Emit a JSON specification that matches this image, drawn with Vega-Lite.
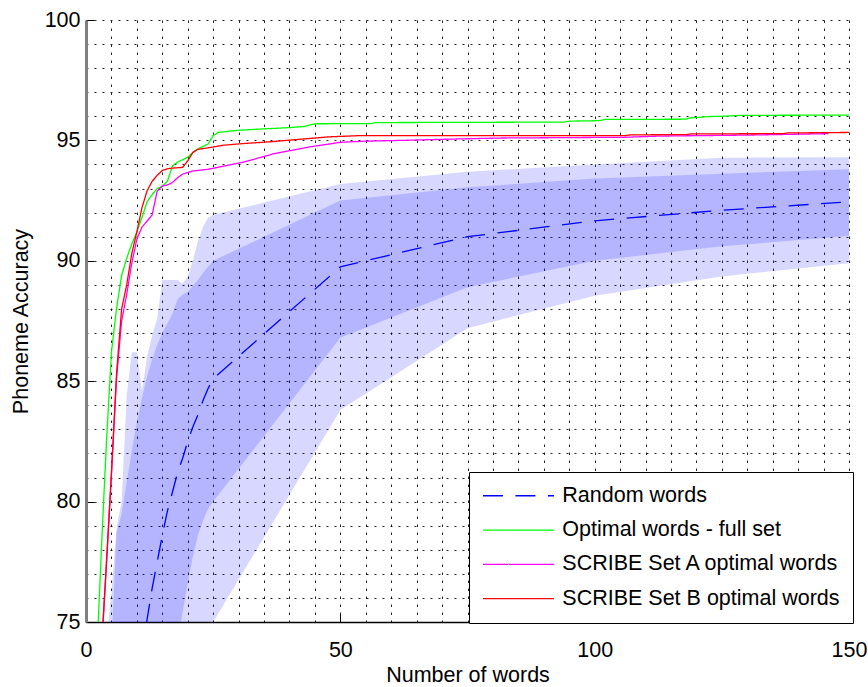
{
  "$schema": "https://vega.github.io/schema/vega-lite/v6.json",
  "width": 763,
  "height": 602,
  "autosize": {"type": "none"},
  "padding": {"left": 86, "top": 20, "right": 19, "bottom": 65},
  "background": "white",
  "config": {
    "view": {"stroke": null},
    "font": "Liberation Sans",
    "axis": {
      "labelFont": "Liberation Sans",
      "labelFontSize": 21.5,
      "labelColor": "black",
      "titleFont": "Liberation Sans",
      "titleFontSize": 21.5,
      "titleFontWeight": "normal",
      "titleColor": "black",
      "grid": true,
      "gridColor": "black",
      "gridOpacity": 0.85,
      "gridWidth": 1,
      "tickColor": "black",
      "tickWidth": 1,
      "labelOverlap": false,
      "labelFlush": false
    },
    "legend": {
      "title": null,
      "orient": "none",
      "legendX": 383,
      "legendY": 452,
      "symbolType": "M-1.38,0H8.62",
      "symbolSize": 201.6,
      "symbolStrokeWidth": 1.3,
      "labelFont": "Liberation Sans",
      "labelFontSize": 21.5,
      "labelColor": "black",
      "labelLimit": 0,
      "labelOffset": 58.8,
      "strokeColor": "black",
      "fillColor": "white",
      "padding": 13,
      "rowPadding": 11.3
    }
  },
  "datasets": {
    "bands": [
      {"x": 4, "olo": 52, "ohi": 74.2, "ilo": 55, "ihi": 70},
      {"x": 5, "olo": 54, "ohi": 76.2, "ilo": 57, "ihi": 74.0},
      {"x": 6, "olo": 56, "ohi": 78.9, "ilo": 59, "ihi": 78.7},
      {"x": 7, "olo": 58, "ohi": 80.0, "ilo": 61, "ihi": 79.5},
      {"x": 8, "olo": 59.5, "ohi": 84.4, "ilo": 63, "ihi": 80.8},
      {"x": 9, "olo": 61, "ohi": 86.2, "ilo": 64.5, "ihi": 82.1},
      {"x": 10, "olo": 62.5, "ohi": 86.2, "ilo": 66, "ihi": 83.3},
      {"x": 11, "olo": 63.8, "ohi": 84.6, "ilo": 67.3, "ihi": 84.3},
      {"x": 12, "olo": 65, "ohi": 86.0, "ilo": 68.5, "ihi": 85.2},
      {"x": 13, "olo": 66.2, "ohi": 86.9, "ilo": 69.6, "ihi": 85.9},
      {"x": 14, "olo": 67.3, "ohi": 87.6, "ilo": 70.6, "ihi": 86.5},
      {"x": 15, "olo": 68.3, "ohi": 89.2, "ilo": 71.5, "ihi": 87.0},
      {"x": 16, "olo": 69.3, "ohi": 89.2, "ilo": 72.4, "ihi": 87.4},
      {"x": 17, "olo": 70.2, "ohi": 89.2, "ilo": 73.2, "ihi": 87.8},
      {"x": 18, "olo": 71.1, "ohi": 89.2, "ilo": 74.0, "ihi": 88.4},
      {"x": 19, "olo": 71.9, "ohi": 89.05, "ilo": 75.4, "ihi": 88.6},
      {"x": 20, "olo": 72.6, "ohi": 89.35, "ilo": 76.6, "ihi": 88.7},
      {"x": 21, "olo": 73.2, "ohi": 90.0, "ilo": 77.7, "ihi": 88.95},
      {"x": 22, "olo": 73.7, "ohi": 90.8, "ilo": 78.6, "ihi": 89.2},
      {"x": 23, "olo": 74.2, "ohi": 91.4, "ilo": 79.2, "ihi": 89.5},
      {"x": 24, "olo": 74.6, "ohi": 91.8, "ilo": 79.7, "ihi": 89.75},
      {"x": 25, "olo": 75.0, "ohi": 91.9, "ilo": 80.0, "ihi": 90.0},
      {"x": 50, "olo": 83.8, "ohi": 93.19, "ilo": 86.8, "ihi": 92.5},
      {"x": 75, "olo": 87.2, "ohi": 93.7, "ilo": 88.9, "ihi": 93.05},
      {"x": 100, "olo": 88.55, "ohi": 94.0, "ilo": 90.0, "ihi": 93.42},
      {"x": 125, "olo": 89.35, "ohi": 94.28, "ilo": 90.6, "ihi": 93.62},
      {"x": 150, "olo": 89.9, "ohi": 94.3, "ilo": 91.03, "ihi": 93.8}
    ],
    "curves": [
      {"series": "Random words", "x": 11, "y": 73.6},
      {"series": "Random words", "x": 12, "y": 75.1},
      {"series": "Random words", "x": 13, "y": 76.4},
      {"series": "Random words", "x": 14, "y": 77.5},
      {"series": "Random words", "x": 15, "y": 78.6},
      {"series": "Random words", "x": 16, "y": 79.6},
      {"series": "Random words", "x": 17, "y": 80.4},
      {"series": "Random words", "x": 18, "y": 81.2},
      {"series": "Random words", "x": 19, "y": 81.8},
      {"series": "Random words", "x": 20, "y": 82.5},
      {"series": "Random words", "x": 21, "y": 83.1},
      {"series": "Random words", "x": 22, "y": 83.6},
      {"series": "Random words", "x": 23, "y": 84.2},
      {"series": "Random words", "x": 24, "y": 84.7},
      {"series": "Random words", "x": 25, "y": 85.1},
      {"series": "Random words", "x": 50, "y": 89.75},
      {"series": "Random words", "x": 75, "y": 91.0},
      {"series": "Random words", "x": 100, "y": 91.66},
      {"series": "Random words", "x": 125, "y": 92.1},
      {"series": "Random words", "x": 150, "y": 92.45},

      {"series": "Optimal words - full set", "x": 2, "y": 73.0},
      {"series": "Optimal words - full set", "x": 3, "y": 77.9},
      {"series": "Optimal words - full set", "x": 4, "y": 82.4},
      {"series": "Optimal words - full set", "x": 5, "y": 86.2},
      {"series": "Optimal words - full set", "x": 6, "y": 88.0},
      {"series": "Optimal words - full set", "x": 7, "y": 89.4},
      {"series": "Optimal words - full set", "x": 8, "y": 90.1},
      {"series": "Optimal words - full set", "x": 9, "y": 90.7},
      {"series": "Optimal words - full set", "x": 10, "y": 91.2},
      {"series": "Optimal words - full set", "x": 11, "y": 91.8},
      {"series": "Optimal words - full set", "x": 12, "y": 92.45},
      {"series": "Optimal words - full set", "x": 13, "y": 92.75},
      {"series": "Optimal words - full set", "x": 14, "y": 93.0},
      {"series": "Optimal words - full set", "x": 15, "y": 93.1},
      {"series": "Optimal words - full set", "x": 16, "y": 93.3},
      {"series": "Optimal words - full set", "x": 17, "y": 93.95},
      {"series": "Optimal words - full set", "x": 18, "y": 94.1},
      {"series": "Optimal words - full set", "x": 19, "y": 94.2},
      {"series": "Optimal words - full set", "x": 20, "y": 94.3},
      {"series": "Optimal words - full set", "x": 21, "y": 94.5},
      {"series": "Optimal words - full set", "x": 22, "y": 94.65},
      {"series": "Optimal words - full set", "x": 23, "y": 94.75},
      {"series": "Optimal words - full set", "x": 24, "y": 94.85},
      {"series": "Optimal words - full set", "x": 25, "y": 95.2},
      {"series": "Optimal words - full set", "x": 26, "y": 95.33},
      {"series": "Optimal words - full set", "x": 28, "y": 95.38},
      {"series": "Optimal words - full set", "x": 30, "y": 95.42},
      {"series": "Optimal words - full set", "x": 35, "y": 95.48},
      {"series": "Optimal words - full set", "x": 40, "y": 95.53},
      {"series": "Optimal words - full set", "x": 43, "y": 95.58},
      {"series": "Optimal words - full set", "x": 45, "y": 95.69},
      {"series": "Optimal words - full set", "x": 56, "y": 95.7},
      {"series": "Optimal words - full set", "x": 57, "y": 95.74},
      {"series": "Optimal words - full set", "x": 94, "y": 95.76},
      {"series": "Optimal words - full set", "x": 95, "y": 95.8},
      {"series": "Optimal words - full set", "x": 101, "y": 95.82},
      {"series": "Optimal words - full set", "x": 102, "y": 95.87},
      {"series": "Optimal words - full set", "x": 118, "y": 95.88},
      {"series": "Optimal words - full set", "x": 119, "y": 95.94},
      {"series": "Optimal words - full set", "x": 121, "y": 95.96},
      {"series": "Optimal words - full set", "x": 122, "y": 95.99},
      {"series": "Optimal words - full set", "x": 125, "y": 96.0},
      {"series": "Optimal words - full set", "x": 129, "y": 96.04},
      {"series": "Optimal words - full set", "x": 150, "y": 96.05},

      {"series": "SCRIBE Set A optimal words", "x": 3, "y": 73.6},
      {"series": "SCRIBE Set A optimal words", "x": 4, "y": 77.3},
      {"series": "SCRIBE Set A optimal words", "x": 5, "y": 81.1},
      {"series": "SCRIBE Set A optimal words", "x": 6, "y": 85.1},
      {"series": "SCRIBE Set A optimal words", "x": 7, "y": 87.5},
      {"series": "SCRIBE Set A optimal words", "x": 8, "y": 88.6},
      {"series": "SCRIBE Set A optimal words", "x": 9, "y": 89.9},
      {"series": "SCRIBE Set A optimal words", "x": 10, "y": 90.9},
      {"series": "SCRIBE Set A optimal words", "x": 11, "y": 91.4},
      {"series": "SCRIBE Set A optimal words", "x": 12, "y": 91.65},
      {"series": "SCRIBE Set A optimal words", "x": 13, "y": 91.9},
      {"series": "SCRIBE Set A optimal words", "x": 14, "y": 92.9},
      {"series": "SCRIBE Set A optimal words", "x": 15, "y": 93.1},
      {"series": "SCRIBE Set A optimal words", "x": 16, "y": 93.15},
      {"series": "SCRIBE Set A optimal words", "x": 17, "y": 93.25},
      {"series": "SCRIBE Set A optimal words", "x": 18, "y": 93.45},
      {"series": "SCRIBE Set A optimal words", "x": 19, "y": 93.6},
      {"series": "SCRIBE Set A optimal words", "x": 21, "y": 93.73},
      {"series": "SCRIBE Set A optimal words", "x": 24, "y": 93.8},
      {"series": "SCRIBE Set A optimal words", "x": 31, "y": 94.1},
      {"series": "SCRIBE Set A optimal words", "x": 37, "y": 94.45},
      {"series": "SCRIBE Set A optimal words", "x": 44, "y": 94.73},
      {"series": "SCRIBE Set A optimal words", "x": 50, "y": 94.92},
      {"series": "SCRIBE Set A optimal words", "x": 55, "y": 94.97},
      {"series": "SCRIBE Set A optimal words", "x": 62, "y": 95.0},
      {"series": "SCRIBE Set A optimal words", "x": 71, "y": 95.05},
      {"series": "SCRIBE Set A optimal words", "x": 82, "y": 95.1},
      {"series": "SCRIBE Set A optimal words", "x": 106, "y": 95.13},
      {"series": "SCRIBE Set A optimal words", "x": 113, "y": 95.18},
      {"series": "SCRIBE Set A optimal words", "x": 130, "y": 95.22},
      {"series": "SCRIBE Set A optimal words", "x": 146, "y": 95.28},

      {"series": "SCRIBE Set B optimal words", "x": 3, "y": 73.8},
      {"series": "SCRIBE Set B optimal words", "x": 4, "y": 77.4},
      {"series": "SCRIBE Set B optimal words", "x": 5, "y": 81.2},
      {"series": "SCRIBE Set B optimal words", "x": 6, "y": 85.3},
      {"series": "SCRIBE Set B optimal words", "x": 7, "y": 88.0},
      {"series": "SCRIBE Set B optimal words", "x": 8, "y": 89.0},
      {"series": "SCRIBE Set B optimal words", "x": 9, "y": 90.3},
      {"series": "SCRIBE Set B optimal words", "x": 10, "y": 91.2},
      {"series": "SCRIBE Set B optimal words", "x": 11, "y": 92.2},
      {"series": "SCRIBE Set B optimal words", "x": 12, "y": 92.9},
      {"series": "SCRIBE Set B optimal words", "x": 13, "y": 93.3},
      {"series": "SCRIBE Set B optimal words", "x": 14, "y": 93.55},
      {"series": "SCRIBE Set B optimal words", "x": 15, "y": 93.75},
      {"series": "SCRIBE Set B optimal words", "x": 16, "y": 93.82},
      {"series": "SCRIBE Set B optimal words", "x": 17, "y": 93.85},
      {"series": "SCRIBE Set B optimal words", "x": 19, "y": 93.88},
      {"series": "SCRIBE Set B optimal words", "x": 20, "y": 94.15},
      {"series": "SCRIBE Set B optimal words", "x": 21, "y": 94.5},
      {"series": "SCRIBE Set B optimal words", "x": 22, "y": 94.63},
      {"series": "SCRIBE Set B optimal words", "x": 24, "y": 94.69},
      {"series": "SCRIBE Set B optimal words", "x": 27, "y": 94.8},
      {"series": "SCRIBE Set B optimal words", "x": 31, "y": 94.87},
      {"series": "SCRIBE Set B optimal words", "x": 36, "y": 94.94},
      {"series": "SCRIBE Set B optimal words", "x": 44, "y": 95.08},
      {"series": "SCRIBE Set B optimal words", "x": 48, "y": 95.15},
      {"series": "SCRIBE Set B optimal words", "x": 54, "y": 95.2},
      {"series": "SCRIBE Set B optimal words", "x": 106, "y": 95.2},
      {"series": "SCRIBE Set B optimal words", "x": 107, "y": 95.23},
      {"series": "SCRIBE Set B optimal words", "x": 118, "y": 95.24},
      {"series": "SCRIBE Set B optimal words", "x": 119, "y": 95.27},
      {"series": "SCRIBE Set B optimal words", "x": 137, "y": 95.28},
      {"series": "SCRIBE Set B optimal words", "x": 138, "y": 95.31},
      {"series": "SCRIBE Set B optimal words", "x": 150, "y": 95.33}
    ]
  },
  "encoding": {
    "x": {
      "field": "x",
      "type": "quantitative",
      "scale": {"domain": [0, 150], "nice": false, "zero": false},
      "axis": {
        "title": "Number of words",
        "values": [0, 5, 10, 15, 20, 25, 30, 35, 40, 45, 50, 55, 60, 65, 70, 75, 80, 85, 90, 95, 100, 105, 110, 115, 120, 125, 130, 135, 140, 145, 150],
        "labelExpr": "datum.value % 50 === 0 ? datum.label : ''",
        "gridDash": [2.5, 5.5],
        "tickSize": -8,
        "tickOpacity": {"condition": {"test": "datum.value % 50 === 0", "value": 1}, "value": 0},
        "labelPadding": 25,
        "titlePadding": 4,
        "domainColor": "black",
        "domainWidth": 1.5
      }
    },
    "y": {
      "type": "quantitative",
      "scale": {"domain": [75, 100], "nice": false, "zero": false},
      "axis": {
        "title": "Phoneme Accuracy",
        "values": [75, 76, 77, 78, 79, 80, 81, 82, 83, 84, 85, 86, 87, 88, 89, 90, 91, 92, 93, 94, 95, 96, 97, 98, 99, 100],
        "labelExpr": "datum.value % 5 === 0 ? datum.label : ''",
        "gridDash": [2, 6],
        "tickSize": -8,
        "tickOpacity": {"condition": {"test": "datum.value % 5 === 0", "value": 1}, "value": 0},
        "labelPadding": 14,
        "titlePadding": 12,
        "domainColor": "#808080",
        "domainWidth": 3
      }
    }
  },
  "layer": [
    {
      "data": {"name": "bands"},
      "mark": {"type": "area", "color": "#0000ff", "opacity": 0.155, "clip": true},
      "encoding": {
        "y": {"field": "olo", "type": "quantitative"},
        "y2": {"field": "ohi"}
      }
    },
    {
      "data": {"name": "bands"},
      "mark": {"type": "area", "color": "#0000ff", "opacity": 0.155, "clip": true},
      "encoding": {
        "y": {"field": "ilo", "type": "quantitative"},
        "y2": {"field": "ihi"}
      }
    },
    {
      "data": {"name": "curves"},
      "mark": {"type": "line", "clip": true, "strokeWidth": 1.3},
      "encoding": {
        "y": {"field": "y", "type": "quantitative"},
        "color": {
          "field": "series",
          "type": "nominal",
          "scale": {
            "domain": ["Random words", "Optimal words - full set", "SCRIBE Set A optimal words", "SCRIBE Set B optimal words"],
            "range": ["#0000ff", "#00ff00", "#ff00ff", "#ff0000"]
          }
        },
        "strokeDash": {
          "field": "series",
          "type": "nominal",
          "scale": {
            "domain": ["Random words", "Optimal words - full set", "SCRIBE Set A optimal words", "SCRIBE Set B optimal words"],
            "range": [[20, 12.5], [1, 0], [1, 0], [1, 0]]
          }
        }
      }
    }
  ]
}
